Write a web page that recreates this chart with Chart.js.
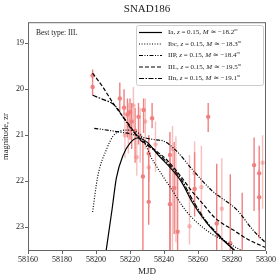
<!DOCTYPE html>
<html>
<head>
<meta charset="utf-8">
<script src="https://cdn.jsdelivr.net/npm/chart.js@4/dist/chart.umd.min.js"></script>
<style>
  body { margin: 0; background: #fff; }
</style>
</head>
<body>
<canvas id="lc" width="280" height="280"></canvas>
<script>
// photometry, zr band (two shades as in the original); bars are asymmetric
const darkMjd = [58198, 58198, 58214, 58216.5, 58218.5, 58220, 58221, 58223, 58225, 58227.6, 58228, 58231, 58231, 58233, 58243.5, 58243.5, 58246, 58248, 58258, 58266, 58271, 58279, 58286, 58293, 58296, 58296];
const darkMag = [19.70, 19.95, 20.20, 20.40, 20.55, 20.50, 20.70, 20.90, 20.60, 21.90, 20.45, 21.40, 22.45, 20.63, 21.43, 22.50, 22.15, 23.10, 22.17, 20.60, 22.92, 23.35, 23.60, 21.65, 21.83, 22.35];
const darkErrUp = [0.13, 0.10, 0.35, 0.40, 0.35, 0.30, 0.40, 0.50, 0.30, 0.80, 0.25, 0.40, 0.80, 0.33, 0.50, 1.00, 1.00, 1.30, 0.80, 0.30, 1.30, 1.50, 1.35, 0.60, 0.60, 0.60];
const darkErrDown = [0.15, 0.18, 0.26, 0.17, 0.50, 0.60, 0.60, 0.70, 0.60, 1.70, 0.50, 0.60, 0.50, 0.22, 2.20, 1.20, 1.00, 0.50, 0.60, 0.33, 0.60, 0.50, 0.50, 1.00, 0.80, 0.90];

const lightMjd = [58217, 58219, 58222, 58224, 58226, 58229, 58231, 58235, 58245, 58247, 58255, 58258, 58262, 58274, 58298];
const lightMag = [21.00, 20.80, 20.35, 21.48, 21.00, 20.70, 21.70, 21.20, 21.30, 21.83, 22.98, 21.83, 22.13, 22.60, 21.60];
const lightErrUp = [0.50, 0.50, 0.40, 0.50, 0.60, 0.50, 0.70, 0.50, 0.50, 0.80, 1.55, 0.70, 0.90, 1.10, 0.60];
const lightErrDown = [0.50, 0.60, 0.50, 0.40, 0.60, 0.60, 0.90, 0.60, 2.20, 1.50, 0.40, 0.60, 0.70, 1.00, 1.00];

// model light curves
const iaMjd = [58206, 58209.5, 58212, 58216, 58220, 58224.5, 58230, 58237, 58244, 58250, 58257, 58265, 58273, 58282];
const iaMag = [23.5, 22.6, 21.93, 21.43, 21.17, 21.06, 21.15, 21.45, 21.72, 22.0, 22.48, 22.9, 23.22, 23.52];
const ibcMjd = [58198, 58201, 58206.5, 58210, 58214, 58218, 58224, 58228, 58232, 58236, 58240, 58244, 58253, 58265, 58277, 58285];
const ibcMag = [22.67, 21.9, 21.28, 21.02, 20.91, 20.89, 20.93, 21.1, 21.45, 21.7, 21.93, 22.15, 22.65, 23.07, 23.33, 23.5];
const iipMjd = [58199, 58205, 58212, 58220, 58228, 58235, 58240, 58247, 58257, 58268, 58283, 58292, 58300];
const iipMag = [20.85, 20.88, 20.92, 20.97, 21.05, 21.1, 21.13, 21.33, 21.76, 22.2, 22.63, 23.05, 23.35];
const iilMjd = [58198, 58204, 58210, 58218, 58226, 58234, 58242, 58250, 58256, 58263, 58270, 58281, 58290, 58300];
const iilMag = [19.65, 19.95, 20.3, 20.7, 21.08, 21.3, 21.55, 21.9, 22.2, 22.5, 22.8, 23.07, 23.28, 23.45];
const iinMjd = [58198, 58204, 58211, 58218, 58226, 58234, 58242, 58250, 58257, 58265, 58273, 58281];
const iinMag = [20.13, 20.22, 20.35, 20.72, 21.1, 21.32, 21.6, 21.95, 22.42, 22.88, 23.2, 23.5];

const modelNames = ['Ia', 'Ibc', 'IIP', 'IIL', 'IIn'];
const modelAbsMag = ['\u221218.2', '\u221218.3', '\u221218.4', '\u221219.5', '\u221219.1'];
const redshift = '0.15';
const bestType = 'IIL';

const xTicks = [58160, 58180, 58200, 58220, 58240, 58260, 58280, 58300];
const yTicks = [19, 20, 21, 22, 23];

const dashes = [[], [1, 1.6], [4, 1.5, 1, 1.5, 1, 1.5], [4, 2], [5, 1.5, 1.5, 1.5]];
const SERIF = '"Liberation Serif", "DejaVu Serif", serif';

const pts = (xs, ys) => xs.map((x, i) => ({ x: x, y: ys[i] }));

const modelData = [pts(iaMjd, iaMag), pts(ibcMjd, ibcMag), pts(iipMjd, iipMag), pts(iilMjd, iilMag), pts(iinMjd, iinMag)];

const modelSets = modelData.map((d, i) => ({
    label: modelNames[i],
    data: d,
    showLine: true,
    borderColor: '#000',
    borderWidth: 1.2,
    borderDash: dashes[i],
    pointRadius: 0,
    cubicInterpolationMode: 'monotone',
    fill: false
}));

// vertical error bars, drawn under everything
const errorBars = {
    id: 'errorBars',
    beforeDatasetsDraw(chart) {
        const { ctx, chartArea: a, scales: { x, y } } = chart;
        ctx.save();
        ctx.beginPath();
        ctx.rect(a.left, a.top, a.width, a.height);
        ctx.clip();
        chart.data.datasets.forEach(ds => {
            if (!ds.errUp) return;
            ctx.strokeStyle = ds.backgroundColor;
            ctx.lineWidth = 1.4;
            ds.data.forEach((p, i) => {
                const px = x.getPixelForValue(p.x);
                ctx.beginPath();
                ctx.moveTo(px, y.getPixelForValue(p.y - ds.errUp[i]));
                ctx.lineTo(px, y.getPixelForValue(p.y + ds.errDown[i]));
                ctx.stroke();
            });
        });
        ctx.restore();
    }
};

// writes pieces of text in a row, some italic
function drawRich(ctx, x, y, parts, size) {
    parts.forEach(p => {
        const s = p.sup ? size * 0.65 : size;
        ctx.font = (p.it ? 'italic ' : '') + s + 'px ' + SERIF;
        ctx.fillText(p.t, x, p.sup ? y - size * 0.35 : y);
        x += ctx.measureText(p.t).width;
    });
}

const frameAndLegend = {
    id: 'frameAndLegend',
    afterDraw(chart) {
        const { ctx, chartArea: a } = chart;
        ctx.save();
        ctx.strokeStyle = '#666';
        ctx.lineWidth = 1;
        ctx.strokeRect(a.left + 0.5, a.top + 0.5, a.width - 1, a.height - 1);

        ctx.fillStyle = '#222';
        ctx.textBaseline = 'middle';
        ctx.font = '7.5px ' + SERIF;
        ctx.fillText('Best type: ' + bestType, a.left + 8, a.top + 11);

        // legend box
        const bx = 136, by = 25, bw = a.right - 3 - bx, bh = 60;
        ctx.fillStyle = 'rgba(255,255,255,0.85)';
        ctx.strokeStyle = '#ccc';
        ctx.beginPath();
        ctx.roundRect(bx + 0.5, by + 0.5, bw, bh, 2);
        ctx.fill();
        ctx.stroke();

        modelNames.forEach((n, i) => {
            const ly = by + 7.5 + i * 11.5;
            ctx.strokeStyle = '#000';
            ctx.lineWidth = 1.2;
            ctx.setLineDash(dashes[i]);
            ctx.beginPath();
            ctx.moveTo(bx + 3, ly);
            ctx.lineTo(bx + 26, ly);
            ctx.stroke();
            ctx.setLineDash([]);
            ctx.fillStyle = '#222';
            drawRich(ctx, bx + 32, ly, [
                { t: n + ', ' }, { t: 'z', it: true }, { t: ' = ' + redshift + ', ' },
                { t: 'M', it: true }, { t: ' \u2243 ' + modelAbsMag[i] }, { t: 'm', sup: true, it: true }
            ], 7);
        });
        ctx.restore();
    }
};

new Chart(document.getElementById('lc').getContext('2d'), {
    type: 'scatter',
    data: {
        datasets: [
            ...modelSets,
            {
                label: 'zr',
                data: pts(darkMjd, darkMag),
                errUp: darkErrUp,
                errDown: darkErrDown,
                backgroundColor: 'rgb(240,128,128)',
                borderWidth: 0,
                pointRadius: 2.2
            },
            {
                label: 'zr (faint)',
                data: pts(lightMjd, lightMag),
                errUp: lightErrUp,
                errDown: lightErrDown,
                backgroundColor: 'rgba(240,128,128,0.5)',
                borderWidth: 0,
                pointRadius: 2.2
            }
        ]
    },
    plugins: [errorBars, frameAndLegend],
    options: {
        responsive: false,
        animation: false,
        layout: { padding: { left: 0, right: 14, top: 0, bottom: 0 } },
        plugins: {
            legend: { display: false },
            tooltip: { enabled: false },
            title: {
                display: true,
                text: 'SNAD186',
                fullSize: false,
                color: '#222',
                font: { family: SERIF, size: 11, weight: 'normal' },
                padding: { top: 3, bottom: 6 }
            }
        },
        scales: {
            x: {
                type: 'linear',
                min: 58160,
                max: 58300,
                afterFit(s) { s.height = 29; },
                afterBuildTicks(s) { s.ticks = xTicks.map(v => ({ value: v })); },
                border: { display: false },
                grid: { drawOnChartArea: false, tickLength: 3, color: '#666' },
                ticks: { color: '#222', font: { family: SERIF, size: 8 }, padding: 1, maxRotation: 0, callback: v => String(v) },
                title: { display: true, text: 'MJD', color: '#222', font: { family: SERIF, size: 9 }, padding: { top: 0, bottom: 3 } }
            },
            y: {
                type: 'linear',
                reverse: true,
                min: 18.54,
                max: 23.52,
                afterFit(s) { s.width = 28; },
                afterBuildTicks(s) { s.ticks = yTicks.map(v => ({ value: v })); },
                border: { display: false },
                grid: { drawOnChartArea: false, tickLength: 3, color: '#666' },
                ticks: { color: '#222', font: { family: SERIF, size: 8 }, padding: 1 },
                title: { display: true, text: 'magnitude, zr', color: '#222', font: { family: SERIF, size: 8.5 }, padding: { top: 1, bottom: 0 } }
            }
        }
    }
});
</script>
</body>
</html>
